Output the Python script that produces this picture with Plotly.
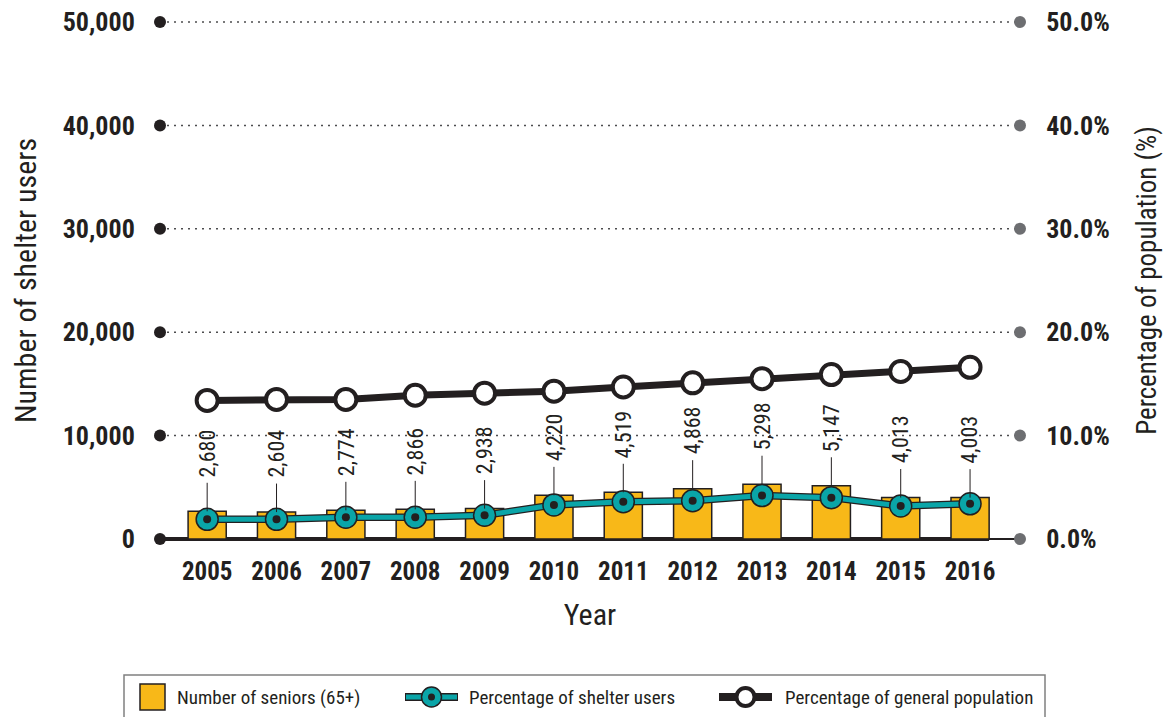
import plotly.graph_objects as go

years = [2005, 2006, 2007, 2008, 2009, 2010, 2011, 2012, 2013, 2014, 2015, 2016]
seniors = [2680, 2604, 2774, 2866, 2938, 4220, 4519, 4868, 5298, 5147, 4013, 4003]
shelter_pct = [1.9, 1.9, 2.1, 2.1, 2.3, 3.3, 3.6, 3.7, 4.2, 4.0, 3.2, 3.4]
general_pct = [13.4, 13.5, 13.5, 13.9, 14.1, 14.3, 14.7, 15.1, 15.5, 15.9, 16.2, 16.6]
left_ticks = [0, 10000, 20000, 30000, 40000, 50000]
left_tick_text = ["0", "10,000", "20,000", "30,000", "40,000", "50,000"]
right_ticks = [0, 10, 20, 30, 40, 50]
right_tick_text = ["0.0%", "10.0%", "20.0%", "30.0%", "40.0%", "50.0%"]
legend_names = ["Number of seniors (65+)", "Percentage of shelter users",
                "Percentage of general population"]

FONT = "Liberation Sans Narrow, Arial Narrow, Roboto Condensed, DejaVu Sans Condensed, sans-serif"
INK = "#231f20"
GOLD = "#f8b818"
TEAL = "#0aa5a8"
GRAY = "#6d6e71"

W, H = 1173, 717
OFF = 8  # page body margin
ML, MR, MT, MB = 160 - OFF, 153 + OFF, 22 - OFF, 178 + OFF
PW, PH = W - ML - MR, H - MT - MB


def px(x):  # page pixel -> paper
    return (x - OFF - ML) / PW


def py(y):
    return (H - MB - (y - OFF)) / PH


fig = go.Figure()

fig.add_trace(go.Bar(
    x=years, y=seniors, name=legend_names[0],
    marker=dict(color=GOLD, line=dict(color=INK, width=1.5)),
    width=0.55, yaxis="y", showlegend=False,
))
# dark edge under teal line
fig.add_trace(go.Scatter(
    x=years, y=shelter_pct, mode="lines", yaxis="y2", showlegend=False,
    line=dict(color=INK, width=7.5), hoverinfo="skip",
))
fig.add_trace(go.Scatter(
    x=years, y=shelter_pct, mode="lines+markers", yaxis="y2",
    name=legend_names[1], showlegend=False,
    line=dict(color=TEAL, width=5),
    marker=dict(size=22, color=TEAL, line=dict(color=INK, width=1.5)),
    cliponaxis=False,
))
fig.add_trace(go.Scatter(
    x=years, y=shelter_pct, mode="markers", yaxis="y2", showlegend=False,
    marker=dict(size=8, color=INK), hoverinfo="skip", cliponaxis=False,
))
fig.add_trace(go.Scatter(
    x=years, y=general_pct, mode="lines+markers", yaxis="y2",
    name=legend_names[2], showlegend=False,
    line=dict(color=INK, width=7),
    marker=dict(size=21, color="white", line=dict(color=INK, width=4)),
    cliponaxis=False,
))

annotations = []
for yr, v in zip(years, seniors):
    annotations.append(dict(
        x=yr, y=v, xref="x", yref="y", text=f"{v:,}", textangle=-90,
        showarrow=True, arrowhead=0, arrowwidth=1, arrowcolor=INK,
        ax=0, ay=-58, borderpad=5,
        font=dict(family=FONT, size=22, color=INK),
    ))

shapes = []
ymax = left_ticks[-1]
for t in left_ticks:
    f = t / ymax
    if t > 0:
        shapes.append(dict(type="line", xref="paper", yref="y domain",
                           x0=0, x1=1, y0=f, y1=f,
                           line=dict(color="#4d4d4f", width=1.5, dash="2px,5px"),
                           layer="below"))
    shapes.append(dict(type="circle", xref="paper", yref="y domain",
                       xsizemode="pixel", ysizemode="pixel",
                       xanchor=0, x0=-6, x1=6, yanchor=f, y0=-6, y1=6,
                       fillcolor=INK, line=dict(width=0), layer="above"))
    shapes.append(dict(type="circle", xref="paper", yref="y domain",
                       xsizemode="pixel", ysizemode="pixel",
                       xanchor=1, x0=-6, x1=6, yanchor=f, y0=-6, y1=6,
                       fillcolor=GRAY, line=dict(width=0), layer="above"))
# thick baseline under bars
shapes.append(dict(type="line", xref="paper", yref="y domain", x0=0, x1=0.964, y0=0, y1=0,
                   line=dict(color=INK, width=4), layer="below"))

# ---- manual legend ----
ly = py(697)
shapes.append(dict(type="rect", xref="paper", yref="paper",
                   x0=px(124), x1=px(1045), y0=py(724), y1=py(675),
                   line=dict(color="#808080", width=1.5), fillcolor="rgba(0,0,0,0)"))
shapes.append(dict(type="rect", xref="paper", yref="paper",
                   x0=px(140), x1=px(165), y0=py(710), y1=py(684),
                   line=dict(color=INK, width=1.5), fillcolor=GOLD))
# teal symbol
shapes.append(dict(type="line", xref="paper", yref="paper", x0=px(405), x1=px(458), y0=ly, y1=ly,
                   line=dict(color=INK, width=8)))
shapes.append(dict(type="line", xref="paper", yref="paper", x0=px(406), x1=px(457), y0=ly, y1=ly,
                   line=dict(color=TEAL, width=5)))
shapes.append(dict(type="circle", xref="paper", yref="paper", xsizemode="pixel", ysizemode="pixel",
                   xanchor=px(431.5), x0=-10, x1=10, yanchor=ly, y0=-10, y1=10,
                   fillcolor=TEAL, line=dict(color=INK, width=1.5)))
shapes.append(dict(type="circle", xref="paper", yref="paper", xsizemode="pixel", ysizemode="pixel",
                   xanchor=px(431.5), x0=-3.5, x1=3.5, yanchor=ly, y0=-3.5, y1=3.5,
                   fillcolor=INK, line=dict(width=0)))
# black symbol
shapes.append(dict(type="line", xref="paper", yref="paper", x0=px(719), x1=px(772), y0=ly, y1=ly,
                   line=dict(color=INK, width=8)))
shapes.append(dict(type="circle", xref="paper", yref="paper", xsizemode="pixel", ysizemode="pixel",
                   xanchor=px(745.5), x0=-9, x1=9, yanchor=ly, y0=-9, y1=9,
                   fillcolor="white", line=dict(color=INK, width=4)))
for name, x in zip(legend_names, [175, 467, 783]):
    annotations.append(dict(x=px(x), y=ly, xref="paper", yref="paper", text=name,
                            showarrow=False, xanchor="left", yanchor="middle",
                            font=dict(family=FONT, size=19, color=INK)))

fig.update_layout(
    width=W, height=H,
    margin=dict(l=ML, r=MR, t=MT, b=MB),
    paper_bgcolor="white", plot_bgcolor="white",
    font=dict(family=FONT, color=INK),
    barmode="overlay",
    xaxis=dict(
        range=[2004.32, 2016.72], tickmode="array", tickvals=years,
        ticktext=[str(y) for y in years], automargin=False,
        tickfont=dict(family=FONT, size=25, color=INK, weight="bold"),
        ticks="outside", ticklen=10, tickcolor="rgba(0,0,0,0)",
        showgrid=False, zeroline=False, showline=False,
        title=dict(text="Year", font=dict(family=FONT, size=30, color=INK), standoff=18),
    ),
    yaxis=dict(
        range=[0, ymax], tickmode="array", tickvals=left_ticks, ticktext=left_tick_text,
        automargin=False, ticklabeloverflow="allow",
        tickfont=dict(family=FONT, size=26, color=INK, weight="bold"),
        ticks="outside", ticklen=19, tickcolor="rgba(0,0,0,0)",
        showgrid=False,
        zeroline=True, zerolinecolor=INK, zerolinewidth=2, showline=False,
        title=dict(text="Number of shelter users", font=dict(family=FONT, size=30, color=INK), standoff=20),
    ),
    yaxis2=dict(
        range=[0, 50], overlaying="y", side="right", tickmode="array",
        tickvals=right_ticks, ticktext=right_tick_text, automargin=False,
        ticklabeloverflow="allow",
        tickfont=dict(family=FONT, size=26, color=INK, weight="bold"),
        ticks="outside", ticklen=20, tickcolor="rgba(0,0,0,0)",
        showgrid=False, zeroline=False, showline=False,
        title=dict(text="Percentage of population (%)", font=dict(family=FONT, size=27, color=INK), standoff=28),
    ),
    annotations=annotations,
    shapes=shapes,
    showlegend=False,
)

fig.write_html("out.html")
